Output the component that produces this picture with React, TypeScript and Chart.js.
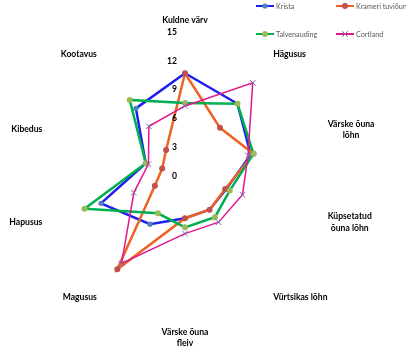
import React, { useEffect, useRef } from 'react';
import { Chart, registerables } from 'chart.js';

Chart.register(...registerables);

// ---- data ----
const categories: (string | string[])[] = [
  'Kuldne värv',
  'Hägusus',
  ['Värske õuna', 'lõhn'],
  ['Küpsetatud', 'õuna lõhn'],
  'Vürtsikas lõhn',
  ['Värske õuna', 'fleiv'],
  'Magusus',
  'Hapusus',
  'Kibedus',
  'Kootavus',
];
const seriesNames = ['Krista', 'Krameri tuviõun', 'Talvenauding', 'Cortland'];
const krista = [10.7, 9.3, 7.2, 4.5, 4.35, 4.4, 6.2, 9.2, 4.3, 8.7];
const krameri = [10.7, 6.2, 7.5, 4.4, 4.35, 4.4, 12.0, 3.3, 2.5, 3.35];
const talvenauding = [7.6, 9.3, 7.5, 4.9, 5.3, 5.35, 4.8, 11.0, 4.3, 9.8];
const cortland = [7.3, 12.0, 6.9, 6.3, 5.95, 6.0, 11.25, 5.6, 4.0, 6.4];
const tickValues = [0, 3, 6, 9, 12, 15];

// ---- styles ----
const lineColors = ['#1f1ff0', '#ee6222', '#00b050', '#e0188f'];
const markerColors = ['#4f81bd', '#c0504d', '#9bbb59', '#8064a2'];
const markerStyles = ['circle', 'circle', 'circle', 'crossRot'];
const markerRadius = [2.6, 3, 3, 4];
const lineWidths = [2.5, 2.5, 2.5, 1.5];
const drawOrder = [3, 2, 1, 0];
const FONT = 'Lato, "Open Sans", sans-serif';

function drawMarker(ctx: CanvasRenderingContext2D, style: string, x: number, y: number, r: number, color: string) {
  ctx.save();
  if (style === 'crossRot') {
    ctx.strokeStyle = color;
    ctx.lineWidth = 1;
    ctx.beginPath();
    ctx.moveTo(x - r * 0.7, y - r * 0.7);
    ctx.lineTo(x + r * 0.7, y + r * 0.7);
    ctx.moveTo(x + r * 0.7, y - r * 0.7);
    ctx.lineTo(x - r * 0.7, y + r * 0.7);
    ctx.stroke();
  } else {
    ctx.fillStyle = color;
    ctx.beginPath();
    ctx.arc(x, y, r, 0, Math.PI * 2);
    ctx.fill();
  }
  ctx.restore();
}

const excelLabels = {
  id: 'excelLabels',
  afterDraw(chart: any) {
    const scale = chart.scales.r;
    const ctx: CanvasRenderingContext2D = chart.ctx;
    ctx.save();
    // radial tick labels
    ctx.font = `bold 8.6px ${FONT}`;
    ctx.fillStyle = '#000000';
    ctx.textAlign = 'right';
    ctx.textBaseline = 'middle';
    tickValues.forEach((v) => {
      const d = scale.getDistanceFromCenterForValue(v);
      ctx.fillText(String(v), scale.xCenter - 8, scale.yCenter - d);
    });
    // point labels
    const labels = chart.data.labels as (string | string[])[];
    const n = labels.length;
    const lh = 11.5;
    ctx.textAlign = 'center';
    for (let i = 0; i < n; i++) {
      const raw = labels[i];
      const lines = Array.isArray(raw) ? raw : [raw];
      const angle = Math.round((i * 360) / n);
      const pos = scale.getPointPosition(i, scale.drawingArea + 6);
      const w = Math.max(...lines.map((l) => ctx.measureText(l).width));
      const h = lh * lines.length;
      let left: number;
      let top: number;
      if (angle === 0) {
        left = pos.x - w / 2;
        top = pos.y - h;
      } else if (angle === 180) {
        left = pos.x - w / 2;
        top = pos.y;
      } else if (angle < 180) {
        left = pos.x;
        top = pos.y - h / 2;
      } else {
        left = pos.x - w;
        top = pos.y - h / 2;
      }
      lines.forEach((l, k) => ctx.fillText(l, left + w / 2, top + lh * k + lh / 2));
    }
    // legend (2 x 2)
    const colX = [256, 336];
    const rowY = [6, 34];
    ctx.font = `7.2px ${FONT}`;
    ctx.textAlign = 'left';
    ctx.fillStyle = '#595959';
    chart.data.datasets.forEach((ds: any, i: number) => {
      const x = colX[i % 2];
      const y = rowY[Math.floor(i / 2)];
      ctx.save();
      ctx.strokeStyle = lineColors[i];
      ctx.lineWidth = 2;
      ctx.beginPath();
      ctx.moveTo(x, y);
      ctx.lineTo(x + 18, y);
      ctx.stroke();
      ctx.restore();
      drawMarker(ctx, markerStyles[i], x + 9, y, markerRadius[i], markerColors[i]);
      ctx.fillStyle = '#595959';
      ctx.fillText(ds.label, x + 20, y + 0.5);
    });
    ctx.restore();
  },
};

export default function App() {
  const ref = useRef<HTMLCanvasElement | null>(null);
  useEffect(() => {
    if (!ref.current) return;
    const values = [krista, krameri, talvenauding, cortland];
    const chart = new Chart(ref.current, {
      type: 'radar',
      data: {
        labels: categories,
        datasets: seriesNames.map((name, i) => ({
          label: name,
          data: values[i],
          borderColor: lineColors[i],
          borderWidth: lineWidths[i],
          backgroundColor: 'transparent',
          fill: false,
          tension: 0,
          pointStyle: markerStyles[i] as any,
          pointRadius: markerRadius[i],
          pointBackgroundColor: markerColors[i],
          pointBorderColor: markerColors[i],
          pointBorderWidth: markerStyles[i] === 'crossRot' ? 1 : 0,
          order: drawOrder[i],
        })),
      },
      options: {
        responsive: false,
        animation: false,
        events: [],
        layout: { padding: { left: 41, right: 77, top: 32, bottom: 30 } },
        plugins: { legend: { display: false }, tooltip: { enabled: false } },
        scales: {
          r: {
            min: 0,
            max: 15,
            ticks: { display: false, stepSize: 3 },
            grid: { display: false },
            angleLines: { display: false },
            pointLabels: { display: false },
          },
        },
      },
      plugins: [excelLabels],
    });
    return () => chart.destroy();
  }, []);
  return (
    <div style={{ position: 'absolute', left: 0, top: 0, width: 406, height: 350, background: '#ffffff' }}>
      <canvas ref={ref} width={406} height={350} style={{ width: 406, height: 350, display: 'block' }} />
    </div>
  );
}
